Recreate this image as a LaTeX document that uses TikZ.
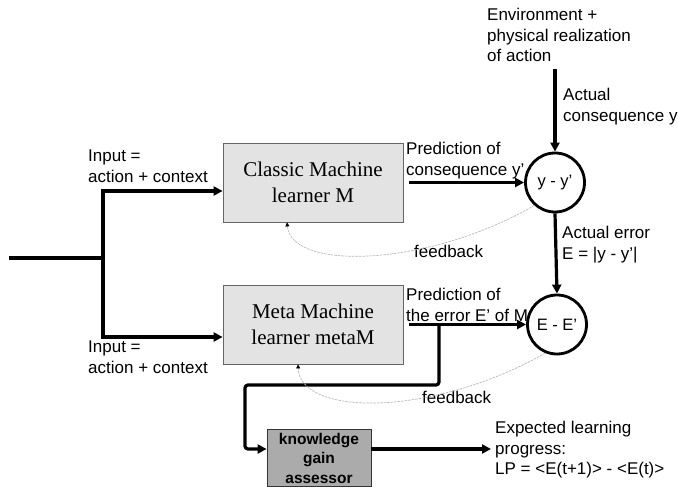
\documentclass[tikz,border=0pt]{standalone}
\usepackage{fontspec}
\setmainfont{Liberation Serif}
\setsansfont{Liberation Sans}
\usetikzlibrary{arrows.meta,calc}
\begin{document}
\begin{tikzpicture}[x=1pt,y=-1pt,
  lbl/.style={font=\sffamily\fontsize{17}{20.5}\selectfont, align=left, anchor=north west, inner sep=0pt},
  learner/.style={draw=gray!80!black, line width=0.8pt, fill=gray!22, minimum width=180pt, minimum height=79pt, inner sep=0pt, align=center, font=\fontsize{21}{26}\selectfont},
  assessor/.style={draw=gray!40!black, fill=gray!66, line width=0.8pt, minimum width=104pt, minimum height=57pt, inner sep=0pt, align=center, font=\sffamily\bfseries\fontsize{15.5}{19.5}\selectfont},
  diff/.style={circle, draw, line width=2.8pt, minimum size=59pt, inner sep=0pt, font=\sffamily\fontsize{16.5}{20}\selectfont},
  flow/.style={line width=3.2pt, -{Triangle[length=9pt,width=9pt]}},
  fb/.style={draw=gray!55, line width=0.7pt, dash pattern=on 2.5pt off 1pt, -{Triangle[length=4pt,width=4pt,black]}}
]
\useasboundingbox (0,0) rectangle (678,487);

\node[learner] (classic) at (313,182.5) {Classic Machine\\learner M};
\node[learner] (meta) at (313,324.5) {Meta Machine\\learner metaM};
\node[diff] (c1) at (555,182.5) {y - y’};
\node[diff] (c2) at (557,324.5) {E - E’};
\node[assessor] (kga) at (319,458) {knowledge\\gain\\assessor};

\node[lbl] (inA) at (88,150) {Input =\\action + context};
\node[lbl] (inB) at (88,341) {Input =\\action + context};
\node[lbl] (env) at (487,8) {Environment +\\physical realization\\of action};
\node[lbl] (ac) at (563,88) {Actual\\consequence y};
\node[lbl] (p1) at (406,142) {Prediction of\\consequence y’};
\node[lbl] (p2) at (406,288) {Prediction of\\the error E’ of M};
\node[lbl] (ae) at (562,226) {Actual error\\E = |y - y’|};
\node[lbl] (fbA) at (414,245) {feedback};
\node[lbl] (fbB) at (422,391) {feedback};
\node[lbl] (LP) at (495,421) {Expected learning\\progress:\\LP = <E(t+1)> - <E(t)>};

\coordinate (src) at (9,258);
\coordinate (jn) at (103,258);
\coordinate (envout) at (555,69);
\coordinate (br) at (439,324.5);

\draw[line width=3.2pt] (src) -- (jn);
\draw[flow] (jn) |- ([yshift=-8.5pt]classic.west);
\draw[flow] (jn) |- ([yshift=-12.5pt]meta.west);
\draw[flow, shorten <=6pt] (classic.east) -- (c1.west);
\draw[flow] (envout) -- (c1.north);
\draw[flow] (c1.south) -- (c2.north);
\draw[flow, shorten <=6pt] (meta.east) -- (c2.west);
\draw[flow, rounded corners=3pt] (br) |- (245,385) |- ([yshift=9pt]kga.west);
\draw[flow, shorten >=4pt] ([yshift=9pt]kga.east) -- ([yshift=9pt]kga.east -| LP.west);

\draw[fb] (c1.228) .. controls (430,266) and (292,272) .. ([xshift=-26pt]classic.south);
\draw[fb] (c2.248) .. controls (430,418) and (300,416) .. ([xshift=-15pt]meta.south);
\end{tikzpicture}
\end{document}
